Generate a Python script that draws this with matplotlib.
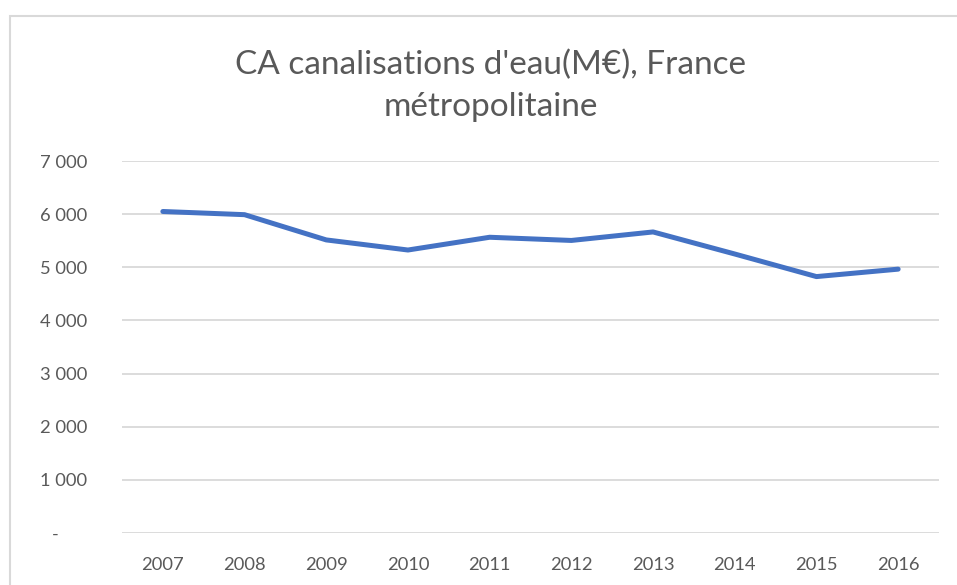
import matplotlib.pyplot as plt
from matplotlib.patches import Rectangle

years = ["2007", "2008", "2009", "2010", "2011", "2012", "2013", "2014", "2015", "2016"]
ca_values = [6050, 5990, 5515, 5325, 5565, 5505, 5665, 5250, 4825, 4965]
y_ticks = [0, 1000, 2000, 3000, 4000, 5000, 6000, 7000]
y_labels = ["-      ", "1 000", "2 000", "3 000", "4 000", "5 000", "6 000", "7 000"]

plt.rcParams['font.family'] = ['Lato', 'DejaVu Sans']

fig = plt.figure(figsize=(9.57, 5.85), dpi=100)
fig.patches.append(Rectangle((10 / 957, -0.1), 1.2, 1 - 16 / 585 + 0.1,
                             transform=fig.transFigure, fill=False,
                             edgecolor="#d9d9d9", linewidth=1.5))

ax = fig.add_axes([122 / 957, 1 - 533 / 585, (939 - 122) / 957, (533 - 161) / 585])
x = list(range(len(years)))
ax.plot(x, ca_values, color="#4472c4", linewidth=3.6, solid_capstyle="round",
        solid_joinstyle="round", zorder=3)

ax.set_xlim(-0.5, len(years) - 0.5)
ax.set_ylim(0, 7000)
ax.set_yticks(y_ticks)
ax.set_yticklabels(y_labels)
ax.set_xticks(x)
ax.set_xticklabels(years)
ax.grid(axis="y", color="#d9d9d9", linewidth=1.3)
ax.set_axisbelow(True)
for s in ax.spines.values():
    s.set_visible(False)
ax.tick_params(axis="both", length=0, colors="#595959", labelsize=13.2)
ax.tick_params(axis="y", pad=25)
ax.tick_params(axis="x", pad=17)

fig.text(0.513, 1 - 86 / 585, "CA canalisations d'eau(M€), France\nmétropolitaine",
         ha="center", va="center", fontsize=24, color="#595959", linespacing=1.5)

fig.savefig("out.png", dpi=100)
